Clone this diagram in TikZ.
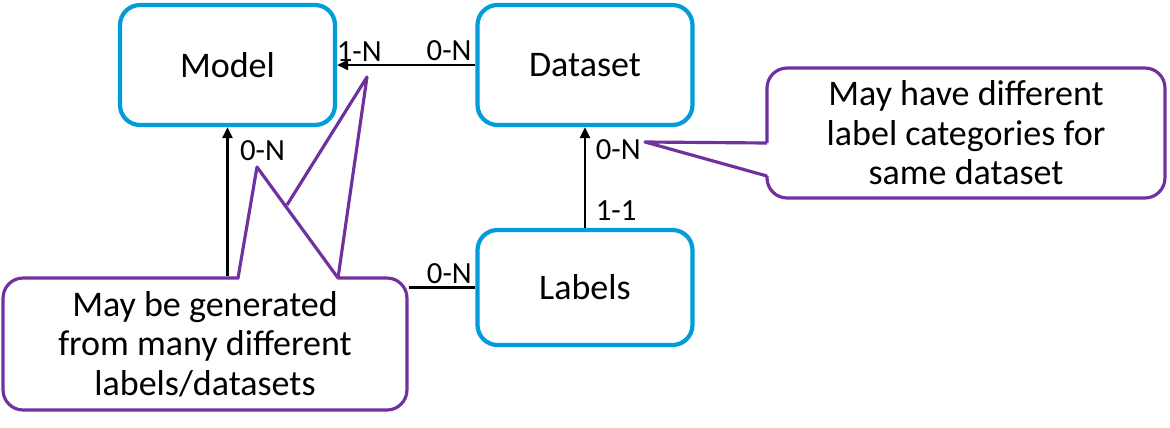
\documentclass[tikz,border=0pt]{standalone}
\usepackage{fontspec}
\setmainfont{Carlito}
\usepackage{tikz}
\usetikzlibrary{positioning,arrows.meta,calc}
\definecolor{entblue}{RGB}{0,157,217}
\definecolor{notepurple}{RGB}{112,48,160}

\begin{document}
\begin{tikzpicture}[x=0.02cm,y=-0.02cm,>={Triangle[length=2.2mm,width=2mm]},
  entity/.style={draw=entblue,line width=2.4pt,rounded corners=0.4cm,fill=white,minimum width=4.3cm,minimum height=2.4cm,font=\fontsize{20.5}{24}\selectfont},
  note/.style={draw=notepurple,line width=1.8pt,rounded corners=0.4cm,fill=white,align=center,font=\fontsize{20.5}{22.5}\selectfont},
  mult/.style={font=\fontsize{17.5}{19}\selectfont,inner sep=1.5pt},
  link/.style={line width=1.4pt},
  tail/.style={draw=notepurple,line width=1.8pt,line join=round}]
\useasboundingbox (0,0) rectangle (1170,427);
\node[entity] (model) at (227.5,65) {Model};
\node[entity] (dataset) at (585,65) {Dataset};
\node[entity,minimum height=2.3cm] (labels) at (585,287.5) {Labels};
\node[note,minimum width=8.08cm,minimum height=2.64cm] (gen) at (205,344) {May be generated\\from many different\\labels/datasets};
\node[note,minimum width=7.96cm,minimum height=2.6cm] (cats) at (966,133) {May have different\\label categories for\\same dataset};
% relations
\draw[link,->] (dataset.west) -- (model.east)
  node[mult,pos=0.19,above] {0-N} node[mult,pos=0.84,above] {1-N};
\draw[link,->] (labels.north) -- (dataset.south)
  node[mult,pos=0.17,right=4pt] {1-1} node[mult,pos=0.78,right=4pt] {0-N};
\draw[link,->] (gen.north -| model.south) -- (model.south)
  node[mult,pos=0.84,right=5pt] {0-N};
\draw[link] (labels.west) -- (labels.west -| gen.east)
  node[mult,pos=0.39,above] {0-N};
% callout pointers
\fill[white] (239,281) -- (257,167) -- (287,205) -- (367,77) -- (337,281) -- cycle;
\draw[tail] (238,278) -- (257,167) -- (338,278);
\draw[tail] (287,205) -- (367,77) -- (338,278);
\fill[white] (769.5,143) -- (645,142) -- (769.5,176) -- cycle;
\draw[tail] (767,143) -- (645,142) -- (767,176);
\end{tikzpicture}
\end{document}
